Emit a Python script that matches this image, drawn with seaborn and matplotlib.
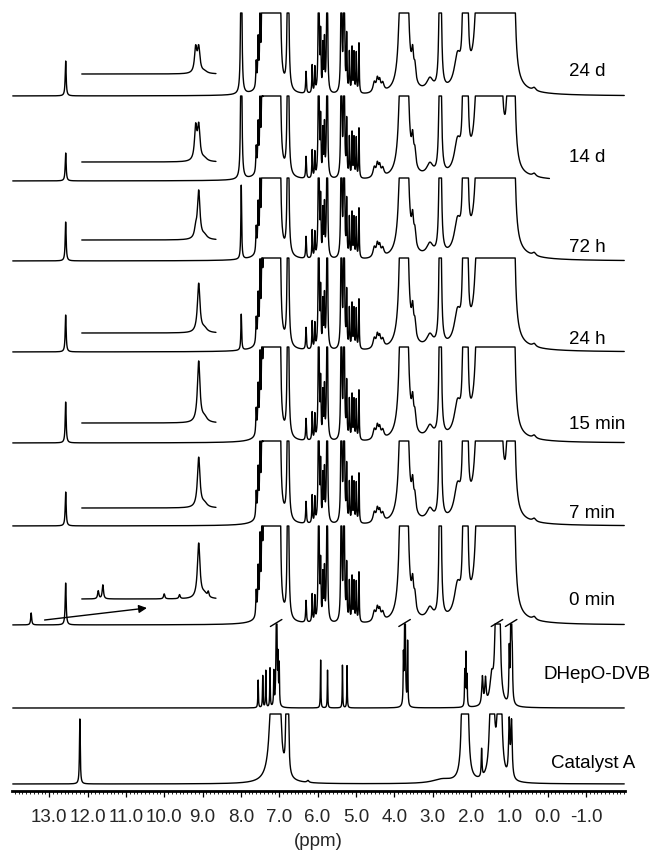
import numpy as np
import pandas as pd
import matplotlib
matplotlib.use('Agg')
import matplotlib.pyplot as plt
from matplotlib.ticker import MultipleLocator, FixedLocator
import seaborn as sns

# spectra, top to bottom
trace_names = ['24 d', '14 d', '72 h', '24 h', '15 min', '7 min', '0 min', 'DHepO-DVB', 'Catalyst A']

# reaction mixture signals: position (ppm), intensity, half width
mix_ppm = [7.60, 7.55, 7.50, 7.45, 7.40, 7.33, 7.25, 7.15, 7.05, 6.98, 6.77,
           6.30, 6.14, 6.07, 5.97, 5.92, 5.86, 5.82, 5.75,
           5.38, 5.31, 5.24, 5.17, 5.10, 5.05, 4.99, 4.92,
           4.52, 4.44, 4.38, 4.30,
           3.79, 3.70, 3.52, 3.46, 3.07, 2.80, 2.35, 2.18, 2.11,
           1.78, 1.65, 1.50, 1.38, 1.25, 1.00, 0.90, 0.35]
mix_height = [25, 45, 70, 110, 150, 250, 400, 400, 400, 150, 300,
              22, 28, 25, 200, 55, 45, 50, 200,
              200, 200, 55, 40, 45, 40, 40, 50,
              10, 12, 10, 8,
              600, 500, 25, 15, 12, 500, 30, 500, 500,
              400, 400, 500, 400, 300, 300, 300, 3]
mix_width = [.012, .012, .012, .012, .015, .02, .025, .025, .025, .015, .015,
             .012, .01, .01, .012, .01, .01, .01, .012,
             .012, .012, .01, .01, .01, .01, .01, .01,
             .04, .03, .03, .04,
             .03, .03, .03, .03, .1, .015, .1, .015, .015,
             .04, .05, .05, .05, .03, .03, .03, .05]

# signals that change from sample to sample (24 d ... 0 min)
acid_peak = [35, 28, 39, 37, 41, 34, 42]       # 12.57 ppm
aryl_peak = [300, 300, 74, 36, 0, 0, 0]        # 7.99 ppm
alkyl_peak = [300, 0, 300, 300, 60, 0, 300]    # 1.12 ppm
early_peak = [0, 0, 0, 0, 0, 0, 12]            # 13.47 ppm

# expanded 12.2-8.6 ppm region
inset_main = [25, 34, 48, 49, 61, 50, 55]      # 9.10 ppm
inset_split = [24, 32, 8, 0, 0, 0, 0]          # 9.18 ppm
inset_extra_ppm = [11.72, 11.60, 10.00, 9.60, 8.85]
inset_extra_height = [8, 14, 5, 4, 5]          # 0 min only

# DHepO-DVB
dvb_ppm = [7.55, 7.43, 7.35, 7.24, 7.14, 7.07, 7.03, 7.00, 5.92, 5.74, 5.35, 5.23,
           3.76, 3.72, 3.65, 2.16, 2.13, 2.10, 1.70, 1.62, 1.46, 1.33, 1.26, 1.00, 0.95, 0.92]
dvb_height = [28, 32, 37, 39, 34, 200, 44, 40, 49, 38, 43, 43,
              46, 200, 64, 35, 52, 30, 28, 25, 25, 200, 120, 50, 200, 34]
dvb_width = [.008, .008, .008, .008, .008, .01, .008, .008, .007, .007, .007, .007,
             .008, .01, .008, .008, .008, .008, .02, .02, .05, .03, .03, .01, .012, .01]
dvb_breaks = [7.08, 3.73, 1.32, 0.95]

# Catalyst A
cat_ppm = [12.20, 7.15, 7.02, 6.81, 6.77, 6.25, 2.75, 2.20, 2.11, 1.72, 1.45, 1.25, 1.00, 0.94]
cat_height = [65, 300, 300, 200, 200, 2, 4, 300, 300, 28, 300, 300, 55, 55]
cat_width = [.012, .05, .03, .012, .012, .03, .3, .025, .025, .012, .032, .032, .02, .02]

tick_values = [13.0, 12.0, 11.0, 10.0, 9.0, 8.0, 7.0, 6.0, 5.0, 4.0, 3.0, 2.0, 1.0, 0.0, -1.0]

# layout: baseline of each trace and height where it is cut off
offsets = [756, 671, 591, 500, 409, 326, 227, 144, 68]
caps = [83, 85, 83, 94, 96, 85, 99, 84, 70]
inset_offsets = [22, 19, 21, 19, 20, 18, 26]
label_y = [781, 695, 605, 514, 428, 339, 252, 178, 89]


def lorentz(x, centres, heights, widths):
    y = np.zeros_like(x)
    for c, h, w in zip(centres, heights, widths):
        y += h * w ** 2 / (w ** 2 + (x - c) ** 2)
    return y


x = np.linspace(13.95, -2.0, 6400)
xi = np.linspace(12.15, 8.65, 1400)
pieces = []

for i in range(7):
    spec = lorentz(x, mix_ppm, mix_height, mix_width)
    spec += lorentz(x, [12.57, 7.99, 1.12, 13.47],
                    [acid_peak[i], aryl_peak[i], alkyl_peak[i], early_peak[i]],
                    [0.015, 0.012, 0.04, 0.015])
    spec = np.minimum(spec, caps[i])
    keep = x >= (-0.05 if trace_names[i] == '14 d' else -2.0)
    pieces.append(pd.DataFrame({'ppm': x[keep], 'signal': offsets[i] + spec[keep], 'unit': f'{i}'}))

    ins = lorentz(xi, [9.10, 9.18, 8.95], [inset_main[i], inset_split[i], 0.08 * inset_main[i]], [0.04, 0.035, 0.08])
    if trace_names[i] == '0 min':
        ins += lorentz(xi, inset_extra_ppm, inset_extra_height, [0.02] * len(inset_extra_ppm))
    pieces.append(pd.DataFrame({'ppm': xi, 'signal': offsets[i] + inset_offsets[i] + ins, 'unit': f'{i}i'}))

dvb = np.minimum(lorentz(x, dvb_ppm, dvb_height, dvb_width), caps[7])
pieces.append(pd.DataFrame({'ppm': x, 'signal': offsets[7] + dvb, 'unit': '7'}))
cat = np.minimum(lorentz(x, cat_ppm, cat_height, cat_width), caps[8])
pieces.append(pd.DataFrame({'ppm': x, 'signal': offsets[8] + cat, 'unit': '8'}))

df = pd.concat(pieces, ignore_index=True)

sns.set_theme(style='white')
plt.rcParams['font.family'] = ['Liberation Sans', 'DejaVu Sans']

fig = plt.figure(figsize=(6.55, 8.53), dpi=100)
ax = fig.add_axes([12 / 655, 61 / 853, 613 / 655, 792 / 853])

sns.lineplot(data=df, x='ppm', y='signal', units='unit', estimator=None, sort=False,
             color='black', linewidth=1.0, legend=False, ax=ax)

# break marks on the cut DHepO-DVB signals
top = offsets[7] + caps[7] + 1
for b in dvb_breaks:
    ax.plot([b + 0.15, b - 0.15], [top - 3.5, top + 3.5], color='black', lw=1.0)

# arrow pointing to the expanded region (0 min)
ax.annotate('', xy=(10.45, offsets[6] + 17), xytext=(13.12, offsets[6] + 5),
            arrowprops=dict(arrowstyle='-|>', color='black', lw=1, mutation_scale=12,
                            shrinkA=0, shrinkB=0))

for i, name in enumerate(trace_names):
    if name == 'DHepO-DVB':
        ax.text(-2.70, label_y[i], name, ha='right', va='center', fontsize=13.5, color='black')
    else:
        xpos = -0.09 if name == 'Catalyst A' else -0.56
        ax.text(xpos, label_y[i], name, ha='left', va='center', fontsize=13.5, color='black')

ax.set_xlim(13.97, -2.02)
ax.set_ylim(61, 853)
ax.set_yticks([])
ax.set_ylabel('')
for s in ['left', 'right', 'top']:
    ax.spines[s].set_visible(False)
ax.spines['bottom'].set_linewidth(2)
ax.spines['bottom'].set_color('black')

ax.xaxis.set_major_locator(FixedLocator(tick_values))
ax.xaxis.set_minor_locator(MultipleLocator(0.1))
ax.set_xticklabels([f'{v:.1f}' for v in tick_values],
                   family=['Liberation Sans Narrow', 'Liberation Sans'], fontsize=13.5)
ax.tick_params(axis='x', which='major', direction='out', length=4.5, width=0.9,
               color='black', pad=7.5, bottom=True)
ax.tick_params(axis='x', which='minor', direction='out', length=2, width=0.6,
               color='black', bottom=True)
ax.set_xlabel('(ppm)', fontsize=13.5, labelpad=5)

fig.savefig('out.png', dpi=100, facecolor='white')
